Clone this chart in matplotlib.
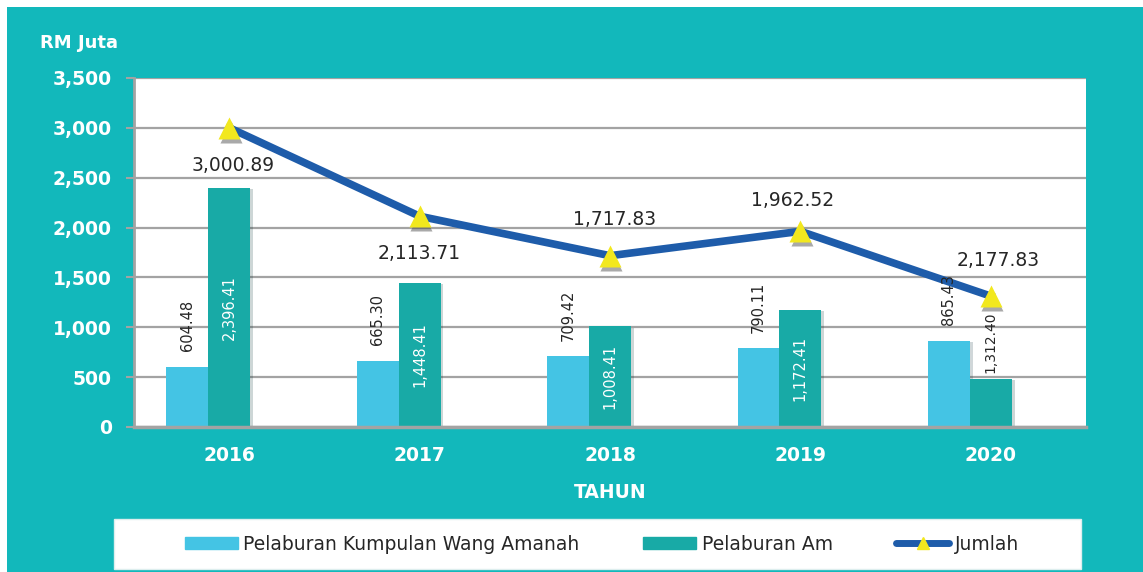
##############
#Dependencies
##############
import numpy as np
import matplotlib
matplotlib.use('Agg')
import matplotlib.pyplot as plt
import matplotlib.patheffects as pe
import matplotlib.transforms as mtransforms
from matplotlib.patches import Rectangle, Patch
from matplotlib.lines import Line2D

#################
#Data
#################
years = ['2016', '2017', '2018', '2019', '2020']
kwa_values = [604.48, 665.30, 709.42, 790.11, 865.43]
kwa_labels = ['604.48', '665.30', '709.42', '790.11', '865.43']
am_values = [2396.41, 1448.41, 1008.41, 1172.41, 481.0]
am_labels = ['2,396.41', '1,448.41', '1,008.41', '1,172.41', '1,312.40']
jumlah_values = [3000.89, 2113.71, 1717.83, 1962.52, 1312.40]
jumlah_labels = ['3,000.89', '2,113.71', '1,717.83', '1,962.52', '2,177.83']

#################
#Configurations
#################
TEAL_BG = '#12B8BB'
KWA_COLOR = '#44C4E4'
AM_COLOR = '#18AAA6'
LINE_COLOR = '#1E5CAA'
MARKER_COLOR = '#F2E81E'
GRID_COLOR = '#A3A3A3'
TEXT_DARK = '#262626'

# offset (in points) of each total label from its marker
jumlah_offsets = [(3, -27), (0, -27), (3, 26), (-6, 22), (5, 26)]


#################
#Methods
#################
def drawChart():
    plt.rcParams['font.family'] = ['DejaVu Sans']
    fig = plt.figure(figsize=(11.43, 5.72), dpi=100)
    fig.patch.set_facecolor('white')
    # teal card behind everything
    fig.patches.append(Rectangle((7 / 1143, 0), 1, 1 - 7 / 572, transform=fig.transFigure,
                                 facecolor=TEAL_BG, edgecolor='none', zorder=-10))

    ax = fig.add_axes([134 / 1143, 1 - 427 / 572, 952 / 1143, 349 / 572])
    ax.set_facecolor('white')

    x = np.arange(len(years))
    w = 0.22
    shadow = [pe.SimplePatchShadow(offset=(2, -1), alpha=0.2), pe.Normal()]
    ax.bar(x - w, kwa_values, w, color=KWA_COLOR, zorder=3, path_effects=shadow)
    ax.bar(x, am_values, w, color=AM_COLOR, zorder=3, path_effects=shadow)

    # line + markers (with a soft drop shadow under each marker)
    ax.plot(x, jumlah_values, color=LINE_COLOR, lw=5.5, zorder=4)
    shadow_tr = mtransforms.offset_copy(ax.transData, fig=fig, x=1, y=-3, units='points')
    ax.plot(x, jumlah_values, ls='none', marker='^', ms=16, color='#404040', alpha=0.45,
            mec='none', transform=shadow_tr, zorder=4.5)
    ax.plot(x, jumlah_values, ls='none', marker='^', ms=16, color=MARKER_COLOR,
            mec='none', zorder=5)

    # bar labels
    for i in range(len(years)):
        ax.annotate(kwa_labels[i], (x[i] - w, kwa_values[i]), xytext=(0, 11),
                    textcoords='offset points', rotation=90, ha='center', va='bottom',
                    fontsize=10.5, color=TEXT_DARK, zorder=6)
        if am_values[i] > 800:
            ax.text(x[i], am_values[i] / 2, am_labels[i], rotation=90, ha='center',
                    va='center', fontsize=10.5, color='white', zorder=6)
        else:
            ax.annotate(am_labels[i], (x[i], am_values[i]), xytext=(0, 4),
                        textcoords='offset points', rotation=90, ha='center', va='bottom',
                        fontsize=10, color=TEXT_DARK, zorder=6)
        ax.annotate(jumlah_labels[i], (x[i], jumlah_values[i]), xytext=jumlah_offsets[i],
                    textcoords='offset points', ha='center', va='center',
                    fontsize=13.5, color=TEXT_DARK, zorder=6)

    ax.set_xlim(-0.5, len(years) - 0.5)
    ax.set_ylim(0, 3500)
    ax.set_yticks(range(0, 3501, 500))
    ax.set_yticklabels(['{:,}'.format(v) for v in range(0, 3501, 500)])
    ax.set_xticks(x)
    ax.set_xticklabels(years)
    ax.tick_params(axis='y', colors=GRID_COLOR, length=6, width=1.5, pad=10,
                   labelcolor='white', labelsize=13.5)
    ax.tick_params(axis='x', length=0, pad=14, labelcolor='white', labelsize=13.5)
    for lab in ax.get_xticklabels() + ax.get_yticklabels():
        lab.set_fontweight('heavy')

    ax.grid(axis='y', color=GRID_COLOR, lw=1.6, zorder=0)
    ax.set_axisbelow(True)
    for side in ['top', 'right']:
        ax.spines[side].set_visible(False)
    ax.spines['left'].set_color(GRID_COLOR)
    ax.spines['left'].set_linewidth(2)
    ax.spines['bottom'].set_color(GRID_COLOR)
    ax.spines['bottom'].set_linewidth(2.5)
    ax.spines['bottom'].set_zorder(4)

    # titles
    fig.text(40 / 1143, 1 - 43 / 572, 'RM Juta', color='white', fontsize=13,
             fontweight='heavy', ha='left', va='center')
    fig.text(610 / 1143, 1 - 492 / 572, 'TAHUN', color='white', fontsize=13.5,
             fontweight='heavy', ha='center', va='center')

    # legend box
    fig.patches.append(Rectangle((114 / 1143, 1 - 569 / 572), 967 / 1143, 50 / 572,
                                 transform=fig.transFigure, facecolor='white',
                                 edgecolor='#DDEEEE', lw=1, zorder=1))
    handles = [Patch(color=KWA_COLOR), Patch(color=AM_COLOR),
               Line2D([0], [0], color=LINE_COLOR, lw=5, marker='^', ms=8,
                      markerfacecolor=MARKER_COLOR, markeredgecolor=MARKER_COLOR,
                      solid_capstyle='round')]
    leg = fig.legend(handles, ['Pelaburan Kumpulan Wang Amanah', 'Pelaburan Am', 'Jumlah'],
                     loc='center', bbox_to_anchor=(602 / 1143, 1 - 544 / 572), ncol=3,
                     frameon=False, fontsize=13.5, handlelength=2.8, handleheight=0.65,
                     handletextpad=0.3, columnspacing=3.4, labelcolor=TEXT_DARK)
    leg.set_zorder(2)

    fig.savefig('out.png', dpi=100, facecolor=fig.get_facecolor())


#####################
#main function
#####################
def main():
    drawChart()


if __name__ == '__main__':
    main()
